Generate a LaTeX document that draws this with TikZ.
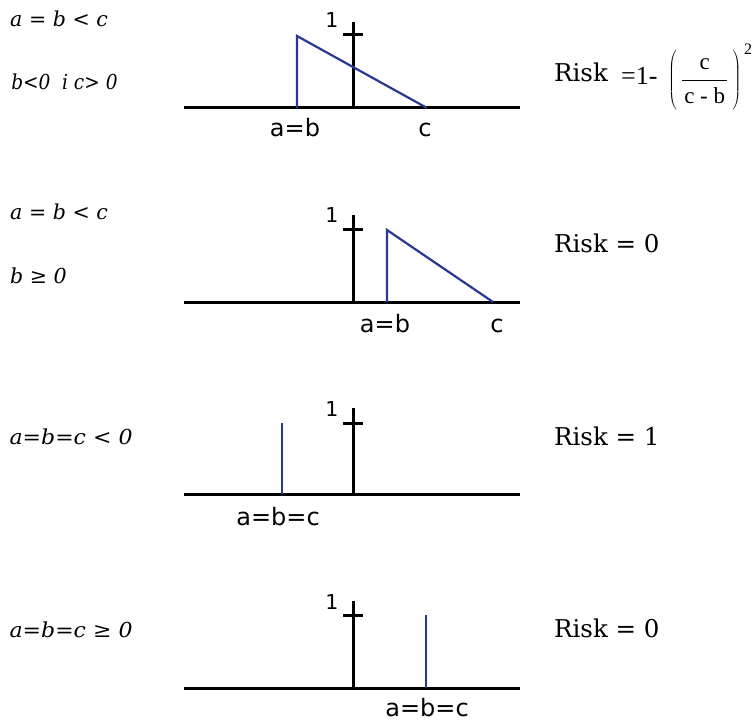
\documentclass[tikz,border=0pt]{standalone}
\usepackage{fontspec}
\setmainfont{Liberation Serif}
\newfontfamily\condfont{DejaVu Serif}
\newfontfamily\labfont{DejaVu Sans}
\definecolor{curveblue}{RGB}{40,55,145}
\begin{document}
\begin{tikzpicture}[x=1pt,y=-1pt,
  axis/.style={line width=3pt,black},
  curve/.style={line width=2.2pt,curveblue},
  cond/.style={anchor=base west,inner sep=0pt,font=\condfont\itshape\fontsize{20.6}{23}\selectfont},
  risk/.style={anchor=base west,inner sep=0pt,font=\condfont\fontsize{24.5}{28}\selectfont},
  lab/.style={anchor=base,inner sep=0pt,font=\labfont\fontsize{24}{28}\selectfont},
  one/.style={anchor=base,inner sep=0pt,font=\labfont\fontsize{20.5}{24}\selectfont},
  frac/.style={inner sep=0pt,font=\fontsize{23}{26}\selectfont}]
\useasboundingbox (0,0) rectangle (755,722);

% ---------- Panel 1 ----------
\node[cond] (c1a) at (10,27) {a = b < c};
\node[cond,xscale=0.9,transform shape] (c1b) at (11.1,90) {b<0\hspace{13pt}i c> 0};
\coordinate (h1l) at (184,108); \coordinate (h1r) at (520,108);
\coordinate (v1b) at (353,108); \coordinate (v1t) at (353,22);
\coordinate (t1l) at (343,35); \coordinate (t1r) at (363,35);
\draw[axis] (h1l) -- (h1r);
\draw[axis] (v1b) -- (v1t);
\draw[axis] (t1l) -- (t1r);
\coordinate (b1) at (297,108); \coordinate (p1) at (297,36); \coordinate (e1) at (427,108);
\draw[curve,line join=miter] (b1) -- (p1) -- (e1);
\node[one] (o1) at (332,28) {1};
\node[lab] (l1a) at (295,137) {a=b};
\node[lab] (l1c) at (425,137) {c};
\node[risk] (r1) at (554,82) {Risk};
\node[anchor=base west,inner sep=0pt,font=\fontsize{26}{28}\selectfont] (eq1) at (621,85) {=1-};
\node[frac,anchor=west] (fr) at (668,80) {$\displaystyle\left(\vcenter{\hrule height 64pt width 0pt}\,\frac{\mbox{c}}{\mbox{\kern2pt c - b\kern2pt}}\,\right)$};
\node[anchor=base,inner sep=0pt,font=\fontsize{16}{18}\selectfont] (sq) at (748,55) {2};

% ---------- Panel 2 ----------
\node[cond] (c2a) at (10,220) {a = b < c};
\node[cond] (c2b) at (10,283) {b ≥ 0};
\coordinate (h2l) at (184,302); \coordinate (h2r) at (520,302);
\coordinate (v2b) at (353,302); \coordinate (v2t) at (353,215);
\coordinate (t2l) at (343,230); \coordinate (t2r) at (363,230);
\draw[axis] (h2l) -- (h2r);
\draw[axis] (v2b) -- (v2t);
\draw[axis] (t2l) -- (t2r);
\coordinate (b2) at (387,302); \coordinate (p2) at (387,230); \coordinate (e2) at (493,302);
\draw[curve,line join=miter] (b2) -- (p2) -- (e2);
\node[one] (o2) at (332,223) {1};
\node[lab] (l2a) at (385,332) {a=b};
\node[lab] (l2c) at (497,332) {c};
\node[risk] (r2) at (554,252) {Risk = 0};

% ---------- Panel 3 ----------
\node[cond,xscale=1.07,transform shape] (c3a) at (9.35,444) {a=b=c < 0};
\coordinate (h3l) at (184,494); \coordinate (h3r) at (520,494);
\coordinate (v3b) at (353,494); \coordinate (v3t) at (353,408);
\coordinate (t3l) at (343,423); \coordinate (t3r) at (363,423);
\draw[axis] (h3l) -- (h3r);
\draw[axis] (v3b) -- (v3t);
\draw[axis] (t3l) -- (t3r);
\coordinate (b3) at (282,494); \coordinate (p3) at (282,423);
\draw[curve] (b3) -- (p3);
\node[one] (o3) at (332,416) {1};
\node[lab] (l3a) at (278,525) {a=b=c};
\node[risk] (r3) at (554,445) {Risk = 1};

% ---------- Panel 4 ----------
\node[cond,xscale=1.07,transform shape] (c4a) at (9.35,637) {a=b=c ≥ 0};
\coordinate (h4l) at (184,688); \coordinate (h4r) at (520,688);
\coordinate (v4b) at (353,688); \coordinate (v4t) at (353,601);
\coordinate (t4l) at (343,615); \coordinate (t4r) at (363,615);
\draw[axis] (h4l) -- (h4r);
\draw[axis] (v4b) -- (v4t);
\draw[axis] (t4l) -- (t4r);
\coordinate (b4) at (426,688); \coordinate (p4) at (426,615);
\draw[curve] (b4) -- (p4);
\node[one] (o4) at (332,609) {1};
\node[lab] (l4a) at (427,716) {a=b=c};
\node[risk] (r4) at (554,637) {Risk = 0};
\end{tikzpicture}
\end{document}
